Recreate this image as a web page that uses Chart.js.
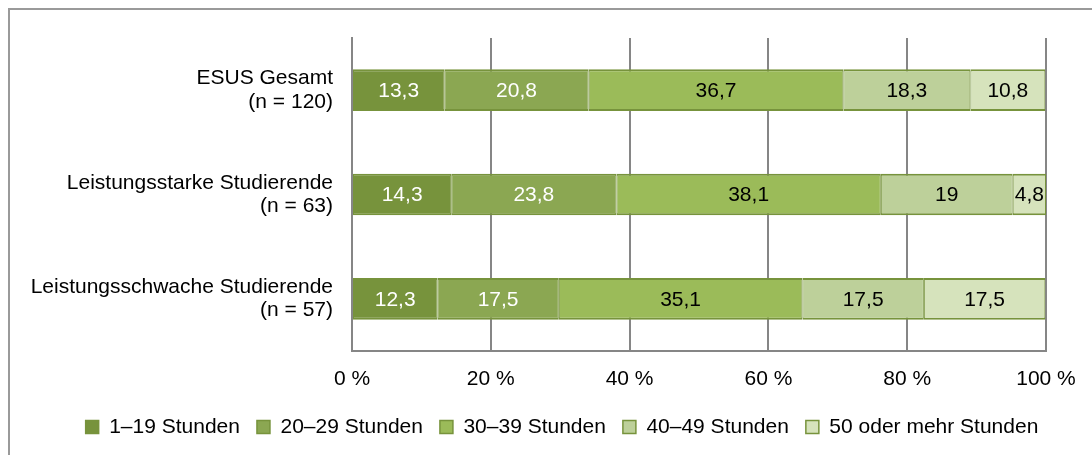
<!DOCTYPE html>
<html>
<head>
<meta charset="utf-8">
<script src="https://cdn.jsdelivr.net/npm/chart.js@4"></script>
<style>
  html, body { margin: 0; padding: 0; background: #ffffff; overflow: hidden; }
  #frame { position: absolute; left: 8px; top: 8px; width: 2000px; height: 2000px;
           border-left: 2px solid #9a9a9a; border-top: 2px solid #9a9a9a; box-sizing: border-box; }
  #wrap { position: absolute; left: 0; top: 0; width: 1092px; height: 455px; }
</style>
</head>
<body>
<div id="frame"></div>
<div id="wrap"><canvas id="c" width="1092" height="455"></canvas></div>
<script>
// ---- data ----
const categories = [
  ['ESUS Gesamt', '(n = 120)'],
  ['Leistungsstarke Studierende', '(n = 63)'],
  ['Leistungsschwache Studierende', '(n = 57)']
];
const seriesNames = ['1–19 Stunden', '20–29 Stunden', '30–39 Stunden', '40–49 Stunden', '50 oder mehr Stunden'];
const hours1to19   = [13.3, 14.3, 12.3];
const hours20to29  = [20.8, 23.8, 17.5];
const hours30to39  = [36.7, 38.1, 35.1];
const hours40to49  = [18.3, 19, 17.5];
const hours50plus  = [10.8, 4.8, 17.5];
const xTicks = [0, 20, 40, 60, 80, 100];

// ---- styles ----
const FONT = "'Liberation Sans', Arial, sans-serif";
const fills = ['#77933C', '#8BA752', '#9BBB59', '#BDD09A', '#D6E3BC'];
const labelColors = ['#ffffff', '#ffffff', '#000000', '#000000', '#000000'];
const edge = '#77933C';
const gridColor = '#868686';

const seriesValues = [hours1to19, hours20to29, hours30to39, hours40to49, hours50plus];

const datasets = seriesNames.map((name, i) => ({
  label: name,
  data: seriesValues[i],
  backgroundColor: fills[i],
  borderColor: edge,
  borderWidth: {top: 2, bottom: 2, left: 1, right: 1},
  borderSkipped: false,
  barPercentage: 0.4,
  categoryPercentage: 1.0
}));

const valueLabels = {
  id: 'valueLabels',
  afterDatasetsDraw(chart) {
    const ctx = chart.ctx;
    ctx.save();
    ctx.font = '21px ' + FONT;
    ctx.textAlign = 'center';
    ctx.textBaseline = 'middle';
    chart.data.datasets.forEach((ds, di) => {
      const meta = chart.getDatasetMeta(di);
      meta.data.forEach((el, i) => {
        const v = ds.data[i];
        const x = (el.x + el.base) / 2;
        ctx.fillStyle = labelColors[di];
        ctx.fillText(String(v).replace('.', ','), x, el.y + 1);
      });
    });
    ctx.restore();
  }
};

// shifts the legend row sideways so it sits where the original places it
const LEGEND_SHIFT = 39;
const legendShift = {
  id: 'legendShift',
  afterLayout(chart) {
    if (chart.legend) {
      chart.legend.left += LEGEND_SHIFT;
      chart.legend.right += LEGEND_SHIFT;
    }
  }
};

new Chart(document.getElementById('c'), {
  type: 'bar',
  data: { labels: categories, datasets },
  options: {
    indexAxis: 'y',
    responsive: false,
    animation: false,
    events: [],
    layout: { padding: { left: 0, right: 46, top: 38, bottom: 7.5 } },
    plugins: {
      tooltip: { enabled: false },
      legend: {
        position: 'bottom',
        labels: {
          boxWidth: 13, boxHeight: 13, padding: 17,
          color: '#000000',
          font: { family: FONT, size: 21 }
        }
      }
    },
    scales: {
      x: {
        stacked: true,
        min: 0, max: 100,
        afterBuildTicks: (s) => { s.ticks = xTicks.map(v => ({ value: v })); },
        afterFit: (s) => { s.height = 48.5; },
        grid: { color: gridColor, lineWidth: 2, drawTicks: false },
        border: { display: true, color: gridColor, width: 2 },
        ticks: {
          padding: 16,
          color: '#000000',
          font: { family: FONT, size: 21 },
          callback: (v) => v + ' %'
        }
      },
      y: {
        stacked: true,
        afterFit: (s) => { s.width = 352; s.paddingTop = 0; s.paddingBottom = 0; },
        grid: { display: false, drawTicks: false },
        border: { display: true, color: gridColor, width: 2 },
        ticks: {
          padding: 19,
          color: '#000000',
          font: { family: FONT, size: 21, lineHeight: 1.1 }
        }
      }
    }
  },
  plugins: [valueLabels, legendShift]
});
</script>
</body>
</html>
